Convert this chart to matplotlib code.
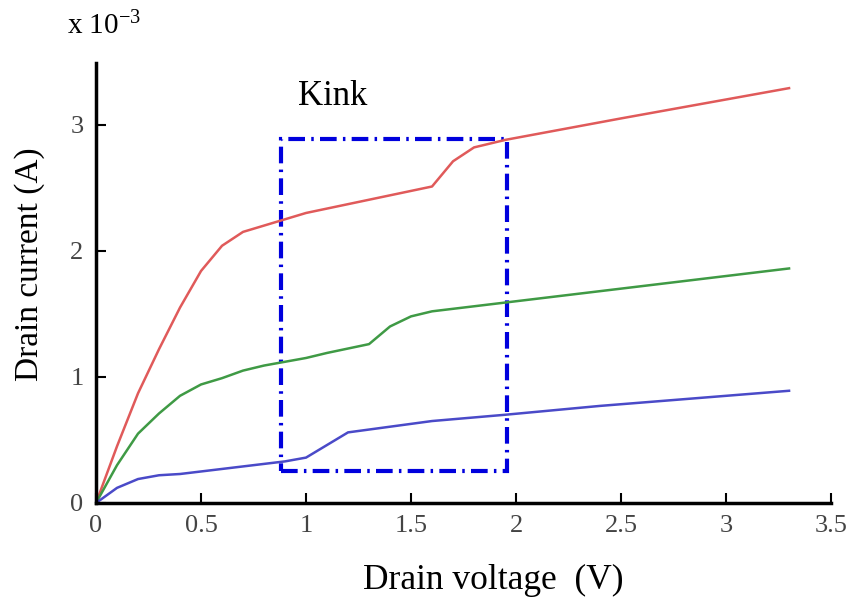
import numpy as np
import matplotlib.pyplot as plt
from matplotlib.patches import Rectangle

plt.rcParams['font.family'] = ['Liberation Serif', 'DejaVu Serif']
plt.rcParams['mathtext.fontset'] = 'custom'
plt.rcParams['mathtext.rm'] = 'Liberation Serif'
plt.rcParams['mathtext.default'] = 'regular'

# Drain current curves (units of 1e-3 A)
vd_red = [0, 0.1, 0.2, 0.3, 0.4, 0.5, 0.6, 0.7, 0.8, 0.9, 1.0, 1.2, 1.4, 1.6, 1.7, 1.8, 1.95, 2.5, 3.3]
id_red = [0, 0.45, 0.87, 1.22, 1.55, 1.84, 2.04, 2.15, 2.20, 2.25, 2.30, 2.37, 2.44, 2.51, 2.71, 2.82, 2.88, 3.05, 3.29]

vd_green = [0, 0.1, 0.2, 0.3, 0.4, 0.5, 0.6, 0.7, 0.8, 0.9, 1.0, 1.1, 1.3, 1.4, 1.5, 1.6, 1.95, 2.5, 3.3]
id_green = [0, 0.30, 0.55, 0.71, 0.85, 0.94, 0.99, 1.05, 1.09, 1.12, 1.15, 1.19, 1.26, 1.40, 1.48, 1.52, 1.59, 1.70, 1.86]

vd_blue = [0, 0.1, 0.2, 0.3, 0.4, 0.5, 0.6, 0.7, 0.8, 0.9, 1.0, 1.2, 1.6, 1.95, 2.4, 3.3]
id_blue = [0, 0.12, 0.19, 0.22, 0.23, 0.25, 0.27, 0.29, 0.31, 0.33, 0.36, 0.56, 0.65, 0.70, 0.77, 0.89]

# kink region
box_x = [0.88, 1.955]
box_y = [0.25, 2.885]

xticks = [0, 0.5, 1, 1.5, 2, 2.5, 3, 3.5]
xticklabels = ["0", "0.5", "1", "1.5", "2", "2.5", "3", "3.5"]
yticks = [0, 1, 2, 3]

fig = plt.figure(figsize=(8.55, 6.05), dpi=100)
ax = fig.add_axes([0.1123, 0.1686, 0.8597, 0.7274])

ax.plot(vd_red, id_red, color="#e05a5a", lw=1.8)
ax.plot(vd_green, id_green, color="#3f9a45", lw=1.8)
ax.plot(vd_blue, id_blue, color="#4a4ac8", lw=1.8)

ax.add_patch(Rectangle((box_x[0], box_y[0]), box_x[1] - box_x[0], box_y[1] - box_y[0],
                       fill=False, edgecolor="#0000dd", lw=3, linestyle=(0, (4, 1.5, 0.6, 1.5))))

ax.text(0.96, 3.22, "Kink", fontsize=25, va="center", ha="left")

ax.set_xlim(0, 3.5)
ax.set_ylim(0, 3.49)
ax.spines["top"].set_visible(False)
ax.spines["right"].set_visible(False)
ax.spines["left"].set_linewidth(2.5)
ax.spines["bottom"].set_linewidth(2.5)

ax.set_xticks(xticks)
ax.set_xticklabels(xticklabels)
ax.set_yticks(yticks)
ax.tick_params(direction="in", length=7, width=1.5, labelsize=19, labelcolor="#444444")
ax.tick_params(axis="x", pad=9)
ax.tick_params(axis="y", pad=9)

ax.set_xlabel("Drain voltage  (V)", fontsize=25.5)
ax.xaxis.set_label_coords(0.541, -0.138)
ax.set_ylabel("Drain current (A)", fontsize=24)
ax.yaxis.set_label_coords(-0.07, 0.543)
fig.text(0.078, 0.957, r"x 10$^{-3}$", fontsize=21, va="center", ha="left")

fig.savefig("out.png", dpi=100)
